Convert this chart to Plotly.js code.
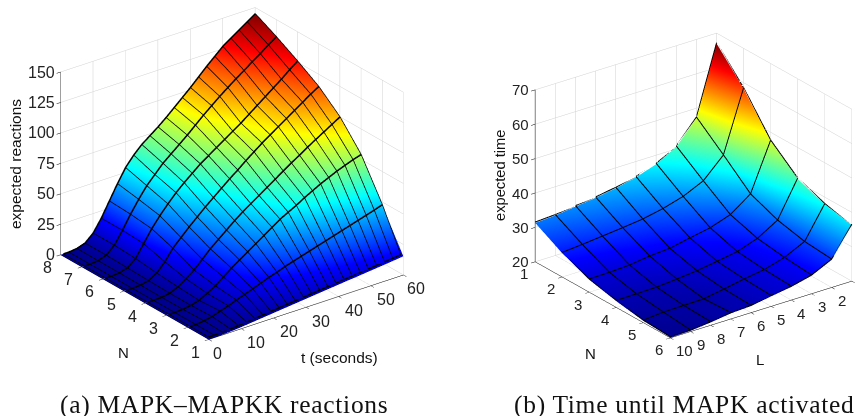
<!DOCTYPE html>
<html><head><meta charset="utf-8">
<script src="https://cdn.plot.ly/plotly-3.0.1.min.js"></script>
<style>html,body{margin:0;padding:0;background:#fff}#c{width:856px;height:416px}
text.annotation-text[style*="Serif"]{letter-spacing:0.7px}</style></head>
<body><div id="c"></div>
<script>
const tValues=[0,2.5,5,7.5,10,12.5,15,17.5,20,22.5,25,27.5,30,32.5,35,37.5,40,42.5,45,47.5,50,52.5,55,57.5,60];
const nValuesA=[1,2,3,4,5,6,7,8];
const reactionsN1=[0,0.1,0.3,0.7,1.3,2,2.7,3.4,4.1,4.8,5.5,6.2,6.9,7.6,8.3,9,9.7,10.4,11,11.7,12.4,13.1,13.8,14.5,15.3];
const reactionsN2=[0,0.1,1,2.3,4.5,6.7,9.2,11.6,14,16.5,19,21,23.5,25.5,27.5,29.5,31.5,33.5,35.5,37.5,39.5,41.5,43.5,45.5,47.8];
const reactionsN3=[0,0.1,0.5,1.5,3.5,7,11,16,21,25.5,30,34.5,39,43.5,48,51.5,55,59,62.5,66,69,72,74.5,77,79];
const reactionsN4=[0,0.1,0.4,1.5,4.5,9,14,20.5,27,32.5,38,43.5,48.5,53,57.5,62,66.5,71,75.5,79.5,84,88,92,96,100];
const reactionsN5=[0,0,0.5,2,6,13,22,28.5,35,41,47,52.5,58,63.5,68.5,74,79,84,88.5,93,97.5,102,106.5,111,115];
const reactionsN6=[0,0,0.6,2.5,8,18,28,36.5,44,51,57,62.5,68,72.5,77,81.5,86,90.5,95.5,100.5,105.5,110.5,115.5,121,126];
const reactionsN7=[0,0,0.7,3,9,19,30,40,49,56,63,68.5,74,79.5,85.5,91.5,97,102.5,107.5,112.5,117,122,126.5,131.5,136];
const reactionsN8=[0,0,0.8,3,9,19,31,43,54,62,68.5,73.5,78.5,84,90,96,102,108.5,115,121,127,131.5,136,140.5,145];
const reactionTicks=[0,25,50,75,100,125,150];
const tTicks=[0,10,20,30,40,50,60];
const nTicksA=[1,2,3,4,5,6,7,8];

const lValues=[1,2,3,4,5,6,7,8,9,10];
const nValuesB=[1,2,3,4,5,6];
const timeN1=[67,47.2,40.6,37.4,35.4,34.1,33.1,32.4,31.65,31.3];
const timeN2=[58.3,40.6,34.9,32.2,30.5,29.3,28.6,28,27.4,26.9];
const timeN3=[47.5,33.7,29.5,27.5,26.4,25.2,24.8,24,23.7,23.6];
const timeN4=[40.9,30.5,27,25,24,23.1,22.5,22,21.9,21.8];
const timeN5=[37.9,28.7,25.9,24.2,23.3,22.2,21.2,21.1,21,20.5];
const timeN6=[36.3,28,25.2,23.8,22.9,21.9,21.6,20.8,20.2,20.1];
const timeTicks=[20,30,40,50,60,70];
const lTicks=[1,2,3,4,5,6,7,8,9,10];
const lLabels=[2,3,4,5,6,7,8,9,10];
const nTicksB=[1,2,3,4,5,6];

const captionA='(a) MAPK–MAPKK reactions';
const captionB='(b) Time until MAPK activated';

const jet=[[0,'rgb(0,0,143)'],[0.125,'rgb(0,0,255)'],[0.375,'rgb(0,255,255)'],[0.625,'rgb(255,255,0)'],[0.875,'rgb(255,0,0)'],[1,'rgb(128,0,0)']];
const flat={ambient:1,diffuse:0,specular:0,roughness:1,fresnel:0};
const W=856,H=416;
const SANS='"Liberation Sans",Arial,sans-serif';
const SERIF='"Liberation Serif",serif';
function dom(x0,x1,y0,y1){return {x:[x0/W,x1/W],y:[1-y1/H,1-y0/H]};}
function eye(alphaDeg,elevDeg,R,sx,sy){
  const a=alphaDeg*Math.PI/180,e=elevDeg*Math.PI/180;
  return {x:sx*Math.sin(a)*Math.cos(e)*R,y:sy*Math.cos(a)*Math.cos(e)*R,z:Math.sin(e)*R};
}
function ax(range,ticks){
  return {range:range,tickvals:ticks,ticktext:ticks.map(String),showticklabels:false,title:{text:''},
    showgrid:true,gridcolor:'#d0d0d0',gridwidth:1,zeroline:false,showbackground:false,showspikes:false,
    showline:true,linecolor:'#000',linewidth:1,ticks:'inside',ticklen:5,tickwidth:1,tickcolor:'#000'};
}
function note(x,y,z,text,xs,ys,size,anchor){
  return {x:x,y:y,z:z,text:String(text),showarrow:false,xshift:xs,yshift:ys,xanchor:anchor||'center',yanchor:'middle',
    font:{family:SANS,size:size,color:'#222'}};
}
const annA=[].concat(
  reactionTicks.map(v=>note(0,8,v,v,-4,0,16,'right')),
  tTicks.map(v=>note(v,1,0,v,v===0?9:(v===60?13:15),-14,16)),
  nTicksA.map(v=>note(0,v,0,v,-13,-13,16))
);
const annB=[].concat(
  timeTicks.map(v=>note(10,1,v,v,-4,0,15,'right')),
  lLabels.map(v=>note(v,6,20,v,v===10?14:10,-13,15)),
  nTicksB.map(v=>note(10,v,20,v,-11,-12,15))
);
function surf(x,y,z,cmin,cmax,scene){
  return {type:'surface',x:x,y:y,z:z,scene:scene,colorscale:jet,cmin:cmin,cmax:cmax,showscale:false,hoverinfo:'skip',lighting:flat,
    contours:{x:{show:false,highlight:false},y:{show:false,highlight:false},z:{show:false,highlight:false}}};
}
// Nudges the wire lines towards the camera so the surface cannot cover them; on screen they stay in place.
function meshLines(x,y,z,scene,lift,dx,dy,wRow,wCol){
  const cx=v=>Math.min(Math.max(v+dx,x[0]),x[x.length-1]);
  const cy=v=>Math.min(Math.max(v+dy,y[0]),y[y.length-1]);
  const cols={x:[],y:[],z:[]},rows={x:[],y:[],z:[]};
  x.forEach((xv,j)=>{y.forEach((yv,i)=>{cols.x.push(cx(xv));cols.y.push(cy(yv));cols.z.push(z[i][j]+lift);});
    cols.x.push(null);cols.y.push(null);cols.z.push(null);});
  y.forEach((yv,i)=>{x.forEach((xv,j)=>{rows.x.push(cx(xv));rows.y.push(cy(yv));rows.z.push(z[i][j]+lift);});
    rows.x.push(null);rows.y.push(null);rows.z.push(null);});
  const tr=(p,w)=>({type:'scatter3d',mode:'lines',scene:scene,hoverinfo:'skip',showlegend:false,connectgaps:false,
    x:p.x,y:p.y,z:p.z,line:{color:'#000',width:w}});
  return [tr(cols,wCol),tr(rows,wRow)];
}
function paperNote(px,py,text,size,fam,angle){
  return {xref:'paper',yref:'paper',x:px/W,y:1-py/H,text:text,showarrow:false,textangle:angle||0,xanchor:'center',yanchor:'middle',
    font:{family:fam,size:size,color:'#111'}};
}
const zA=[reactionsN1,reactionsN2,reactionsN3,reactionsN4,reactionsN5,reactionsN6,reactionsN7,reactionsN8];
const zB=[timeN1,timeN2,timeN3,timeN4,timeN5,timeN6];
const data=[
  surf(tValues,nValuesA,zA,0,145,'scene'),
  surf(lValues,nValuesB,zB,20,67,'scene2')
].concat(meshLines(tValues,nValuesA,zA,'scene',2,-0.8,-0.13,3,1.5),meshLines(lValues,nValuesB,zB,'scene2',0.25,0,0,2,2));
const layout={width:W,height:H,margin:{l:0,r:0,t:0,b:0},paper_bgcolor:'#fff',showlegend:false,
  scene:{domain:dom(50,414,0,347),aspectmode:'manual',aspectratio:{x:1.41,y:1.41,z:1.17},
    camera:{projection:{type:'orthographic'},eye:eye(37.3,25.8,1.06,-1,-1),up:{x:0,y:0,z:1},center:{x:0,y:0,z:0}},
    xaxis:ax([0,60],tTicks),yaxis:ax([1,8],nTicksA),zaxis:ax([0,150],reactionTicks),annotations:annA},
  scene2:{domain:dom(531,856,25,346),aspectmode:'manual',aspectratio:{x:1.41,y:1.41,z:1.18},
    camera:{projection:{type:'orthographic'},eye:eye(36.7,24.8,1.06,1,1),up:{x:0,y:0,z:1},center:{x:0,y:0,z:0}},
    xaxis:ax([1,10],lTicks),yaxis:ax([1,6],nTicksB),zaxis:ax([20,70],timeTicks),annotations:annB},
  annotations:[
    paperNote(16,164,'expected reactions',15.5,SANS,-90),
    paperNote(123,352,'N',15,SANS),
    paperNote(339,357,'t (seconds)',15.5,SANS),
    paperNote(500,176,'expected time',14.7,SANS,-90),
    paperNote(590,353,'N',15,SANS),
    paperNote(760,359,'L',15,SANS),
    paperNote(224,404,captionA,25.5,SERIF),
    paperNote(684,404,captionB,25.5,SERIF)
  ]};
Plotly.newPlot('c',data,layout,{displayModeBar:false});
</script></body></html>
